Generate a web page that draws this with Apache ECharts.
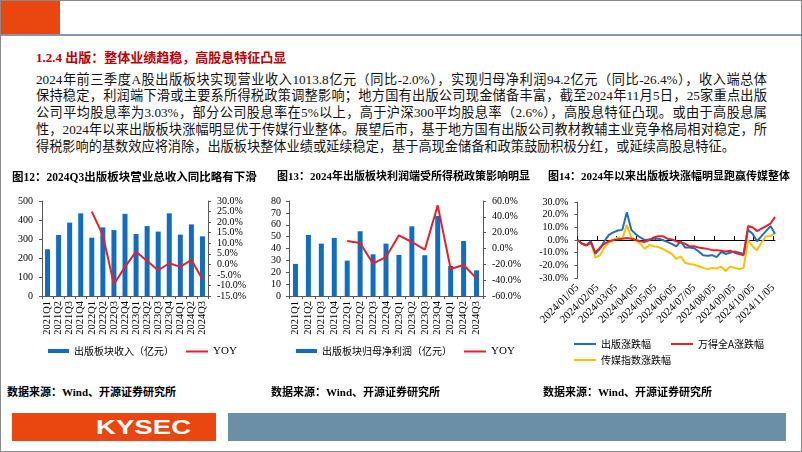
<!DOCTYPE html>
<html><head><meta charset="utf-8">
<script src="https://cdn.jsdelivr.net/npm/echarts@6/dist/echarts.min.js"></script>
<style>
body{margin:0;background:#fff;}
#page{position:relative;width:802px;height:452px;overflow:hidden;background:#fff;font-family:'Liberation Serif','Noto Sans CJK SC',serif;box-sizing:border-box;border:1px solid #8a8a8a;}
.abs{position:absolute;}
.pl{position:absolute;left:35px;width:731px;font-size:13.2px;line-height:16.8px;height:16.8px;text-align:justify;text-align-last:justify;color:#111;overflow:visible;}
.src{position:absolute;top:382px;font-size:11px;font-weight:bold;color:#000;white-space:nowrap;}
</style></head>
<body>
<div id="page">
  <div class="abs" style="left:0;top:0;width:59px;height:34px;background:#E9470F;"></div>
  <div class="abs" style="left:0;top:33px;width:802px;height:2px;background:#7E9AB0;"></div>
  <div class="abs" style="left:35px;top:49px;font-size:13px;line-height:16px;font-weight:bold;color:#C00000;white-space:nowrap;">1.2.4 出版：整体业绩趋稳，高股息特征凸显</div>
  <div class="pl" style="top:70.6px;">2024年前三季度A股出版板块实现营业收入1013.8亿元（同比-2.0%），实现归母净利润94.2亿元（同比-26.4%），收入端总体</div>
  <div class="pl" style="top:87.4px;">保持稳定，利润端下滑或主要系所得税政策调整影响；地方国有出版公司现金储备丰富，截至2024年11月5日，25家重点出版</div>
  <div class="pl" style="top:104.2px;">公司平均股息率为3.03%，部分公司股息率在5%以上，高于沪深300平均股息率（2.6%），高股息特征凸现。或由于高股息属</div>
  <div class="pl" style="top:121px;">性，2024年以来出版板块涨幅明显优于传媒行业整体。展望后市，基于地方国有出版公司教材教辅主业竞争格局相对稳定，所</div>
  <div class="pl" style="top:137.8px;text-align:left;text-align-last:left;">得税影响的基数效应将消除，出版板块整体业绩或延续稳定，基于高现金储备和政策鼓励积极分红，或延续高股息特征。</div>

  <div id="c1" class="abs" style="left:0;top:165px;width:268px;height:205px;"></div>
  <div id="c2" class="abs" style="left:265px;top:165px;width:270px;height:205px;"></div>
  <div id="c3" class="abs" style="left:535px;top:165px;width:266px;height:205px;"></div>

  <div class="src" style="left:6px;">数据来源：Wind、开源证券研究所</div>
  <div class="src" style="left:270px;">数据来源：Wind、开源证券研究所</div>
  <div class="src" style="left:542px;">数据来源：Wind、开源证券研究所</div>

  <div class="abs" style="left:11px;top:412px;width:204px;height:28px;background:#E9470F;"></div>
  <div class="abs" style="left:95px;top:412px;width:98px;height:28px;line-height:28px;color:#fff;font-family:'Liberation Sans',Arial,sans-serif;font-weight:bold;font-size:20px;transform:scaleX(1.38);transform-origin:left center;">KYSEC</div>
  <div class="abs" style="left:227px;top:412px;width:558px;height:28px;background:#6B8FA6;"></div>
</div>
<script>
// ---------- data ----------
const quarters = ['2021Q1','2021Q2','2021Q3','2021Q4','2022Q1','2022Q2','2022Q3','2022Q4','2023Q1','2023Q2','2023Q3','2023Q4','2024Q1','2024Q2','2024Q3'];
const revenue = [246, 321, 386, 435, 307, 361, 347, 432, 326, 368, 339, 435, 323, 377, 314];
const revenueYoy = [null, null, null, null, 25.0, 13.8, -9.4, -1.2, 6.0, 1.6, -2.8, 0.5, -1.2, 2.1, -7.1];
const profit = [27.0, 51.4, 44.1, 48.9, 29.8, 54.5, 35.1, 44.1, 34.6, 58.7, 34.3, 67.4, 25.3, 46.3, 21.6];
const profitYoy = [null, null, null, null, 9.5, 6.9, -19.2, -10.7, 16.6, 8.2, -1.5, 54.5, -25.9, -20.8, -37.7];

const weeks = ['2024-01-05','2024-01-12','2024-01-19','2024-01-26','2024-02-02','2024-02-09','2024-02-16','2024-02-23',
  '2024-03-01','2024-03-08','2024-03-15','2024-03-22','2024-03-29','2024-04-05','2024-04-12','2024-04-19','2024-04-26',
  '2024-05-03','2024-05-10','2024-05-17','2024-05-24','2024-05-31','2024-06-07','2024-06-14','2024-06-21','2024-06-28',
  '2024-07-05','2024-07-12','2024-07-19','2024-07-26','2024-08-02','2024-08-09','2024-08-16','2024-08-23','2024-08-30',
  '2024-09-06','2024-09-13','2024-09-20','2024-09-27','2024-10-04','2024-10-11','2024-10-18','2024-10-25','2024-11-01','2024-11-08'];
const publishChg = [0, -3, -4, -1, -11, -7, -1, 4, 6, 7.5, 8, 22, 8, 4.5, 2, 0, 0.5, 1, 1, 0, -1.5, -3, -5, -1, -6, -6, -6.5, -9, -12, -12.5, -12, -13.5, -9.5, -11, -10, -9, -10, -11, 8, 5, -1, 3, 7, 11, 5];
const windAChg = [0, -3, -4.5, -2, -10, -6, -3, -1, 0, 0.5, 1, 1.5, 1, 0, -1, -1.5, 0, 2, 3, 3, 1, 0.5, -1, -2, -3, -5, -5, -6, -6.5, -7, -8, -8, -8.5, -9, -8.5, -10, -11, -12, 11, 10, 7, 9, 11, 13, 18];
const mediaChg = [0, -3, -4, -2, -14, -12, -6, -2, 0, 2, 1, 12, 2, 0, -3, -7, -4, -5, -5.5, -7, -9, -11, -15, -13, -18, -19, -19.5, -20.5, -22, -23, -22, -22.5, -21, -24.5, -21, -22, -23, -22, 0, -5, -8, -2, 3, 3, 6];
const dateTicks = ['2024/01/05','2024/02/05','2024/03/05','2024/04/05','2024/05/05','2024/06/05','2024/07/05','2024/08/05','2024/09/05','2024/10/05','2024/11/05'];

// ---------- styles ----------
const FONT = "'Liberation Serif','Noto Sans CJK SC',serif";
const CJK = "'Noto Sans CJK SC','Liberation Serif',sans-serif";
const BLUE_BAR = '#0F6DC2', RED = '#E8202A', BLUE_LINE = '#1F6FC0', YELLOW = '#FFC000';
const AXIS_C = '#595959';
const pct1 = v => v.toFixed(1) + '%';
const titleStyle = sz => ({fontSize:sz, fontWeight:'bold', color:'#000', fontFamily:FONT});
const lblStyle = {fontSize:10, color:'#000', fontFamily:FONT};
const xLblStyle = {fontSize:10.5, color:'#000', fontFamily:FONT};
const legText = {fontSize:10, color:'#000', fontFamily:CJK};

function barLine(el, title, barName, barData, yoyData, cfg) {
  const chart = echarts.init(el, null, {renderer:'canvas'});
  chart.setOption({
    animation:false,
    title:{text:title, left:cfg.titleLeft, top:1, textStyle:titleStyle(cfg.tsz)},
    legend:[
      {data:[{name:barName, icon:'rect'}], left:cfg.leg1, top:175, itemWidth:21, itemHeight:4, itemGap:4, textStyle:legText, selectedMode:false},
      {data:[{name:'YOY', icon:'rect'}], left:cfg.leg2, top:175, itemWidth:22, itemHeight:2, textStyle:{fontSize:11, color:'#000', fontFamily:FONT}, selectedMode:false}
    ],
    grid:{left:cfg.gl, right:cfg.gr, top:35, bottom:75},
    xAxis:{type:'category', data:quarters, boundaryGap:true,
      axisLine:{lineStyle:{color:AXIS_C, width:1}},
      axisTick:{show:true, length:3, lineStyle:{color:AXIS_C}},
      axisLabel:Object.assign({rotate:90, interval:0, margin:5}, xLblStyle)},
    yAxis:[
      {type:'value', min:0, max:cfg.lmax, interval:cfg.lint, splitLine:{show:false},
       axisLine:{show:true, lineStyle:{color:AXIS_C}}, axisTick:{show:true, length:3, lineStyle:{color:AXIS_C}},
       axisLabel:Object.assign({margin:cfg.lmargin}, lblStyle)},
      {type:'value', min:cfg.rmin, max:cfg.rmax, interval:cfg.rint, position:'right', splitLine:{show:false},
       axisLine:{show:true, lineStyle:{color:AXIS_C}}, axisTick:{show:true, length:3, lineStyle:{color:AXIS_C}},
       axisLabel:Object.assign({margin:9, formatter:pct1}, lblStyle)}
    ],
    series:[
      {type:'bar', name:barName, data:barData, barWidth:5, itemStyle:{color:BLUE_BAR}},
      {type:'line', name:'YOY', yAxisIndex:1, data:yoyData, symbol:'none', lineStyle:{width:2, color:RED}, itemStyle:{color:RED}, z:5}
    ]
  });
}

barLine(document.getElementById('c1'), '图12：2024Q3出版板块营业总收入同比略有下滑', '出版板块收入（亿元）', revenue, revenueYoy,
  {titleLeft:6, tsz:11.5, leg1:42, leg2:180, gl:41, gr:61, lmax:500, lint:100, lmargin:9, rmin:-15, rmax:30, rint:5});
barLine(document.getElementById('c2'), '图13：2024年出版板块利润端受所得税政策影响明显', '出版板块归母净利润（亿元）', profit, profitYoy,
  {titleLeft:6, tsz:11, leg1:25, leg2:193, gl:23, gr:53, lmax:80, lint:10, lmargin:8, rmin:-60, rmax:60, rint:20});

// ---------- chart 3 ----------
(function(){
  const chart = echarts.init(document.getElementById('c3'), null, {renderer:'canvas'});
  const ts = s => echarts.number.parseDate(s.replace(/\//g,'-')).getTime();
  const tickTs = dateTicks.map(ts);
  const labelMap = {};
  dateTicks.forEach((d,i) => { labelMap[tickTs[i]] = d; });
  const t0 = ts(weeks[0]), t1 = ts(weeks[weeks.length-1]);
  const pairs = arr => weeks.map((d,i) => [ts(d), arr[i]]);
  const lineS = (name, arr, color, z) => ({type:'line', name, data:pairs(arr), symbol:'none', xAxisIndex:0,
      lineStyle:{width:2, color}, itemStyle:{color}, z});
  chart.setOption({
    animation:false,
    title:{text:'图14：2024年以来出版板块涨幅明显跑赢传媒整体', left:7, top:1, textStyle:titleStyle(11)},
    legend:[
      {data:[{name:'出版涨跌幅', icon:'rect'}], left:33, top:168, itemWidth:22, itemHeight:2, itemGap:4, textStyle:legText, selectedMode:false},
      {data:[{name:'万得全A涨跌幅', icon:'rect'}], left:130, top:168, itemWidth:22, itemHeight:2, itemGap:4, textStyle:legText, selectedMode:false},
      {data:[{name:'传媒指数涨跌幅', icon:'rect'}], left:33, top:184, itemWidth:22, itemHeight:2, itemGap:4, textStyle:legText, selectedMode:false}
    ],
    grid:{left:39, right:27, top:36, bottom:93},
    xAxis:[
      {type:'value', min:t0, max:t1, position:'bottom', splitLine:{show:false},
       axisLine:{show:false, onZero:false}, axisTick:{show:false},
       axisLabel:Object.assign({customValues:tickTs, rotate:45, margin:8, hideOverlap:false,
         formatter:v => labelMap[v] || ''}, {fontSize:11, color:'#000', fontFamily:FONT})},
      {type:'value', min:t0, max:t1, position:'bottom', splitLine:{show:false},
       axisLine:{show:true, onZero:true, lineStyle:{color:'#000', width:1}},
       axisTick:{show:true, inside:true, length:4, customValues:tickTs, lineStyle:{color:'#000'}},
       axisLabel:{show:false}}
    ],
    yAxis:{type:'value', min:-30, max:30, interval:10, splitLine:{show:false},
      axisLine:{show:true, onZero:false, lineStyle:{color:AXIS_C}}, axisTick:{show:true, length:3, lineStyle:{color:AXIS_C}},
      axisLabel:Object.assign({margin:9, formatter:pct1}, lblStyle)},
    series:[
      lineS('传媒指数涨跌幅', mediaChg, YELLOW, 3),
      lineS('出版涨跌幅', publishChg, BLUE_LINE, 4),
      lineS('万得全A涨跌幅', windAChg, RED, 5)
    ]
  });
})();
</script>
</body></html>
